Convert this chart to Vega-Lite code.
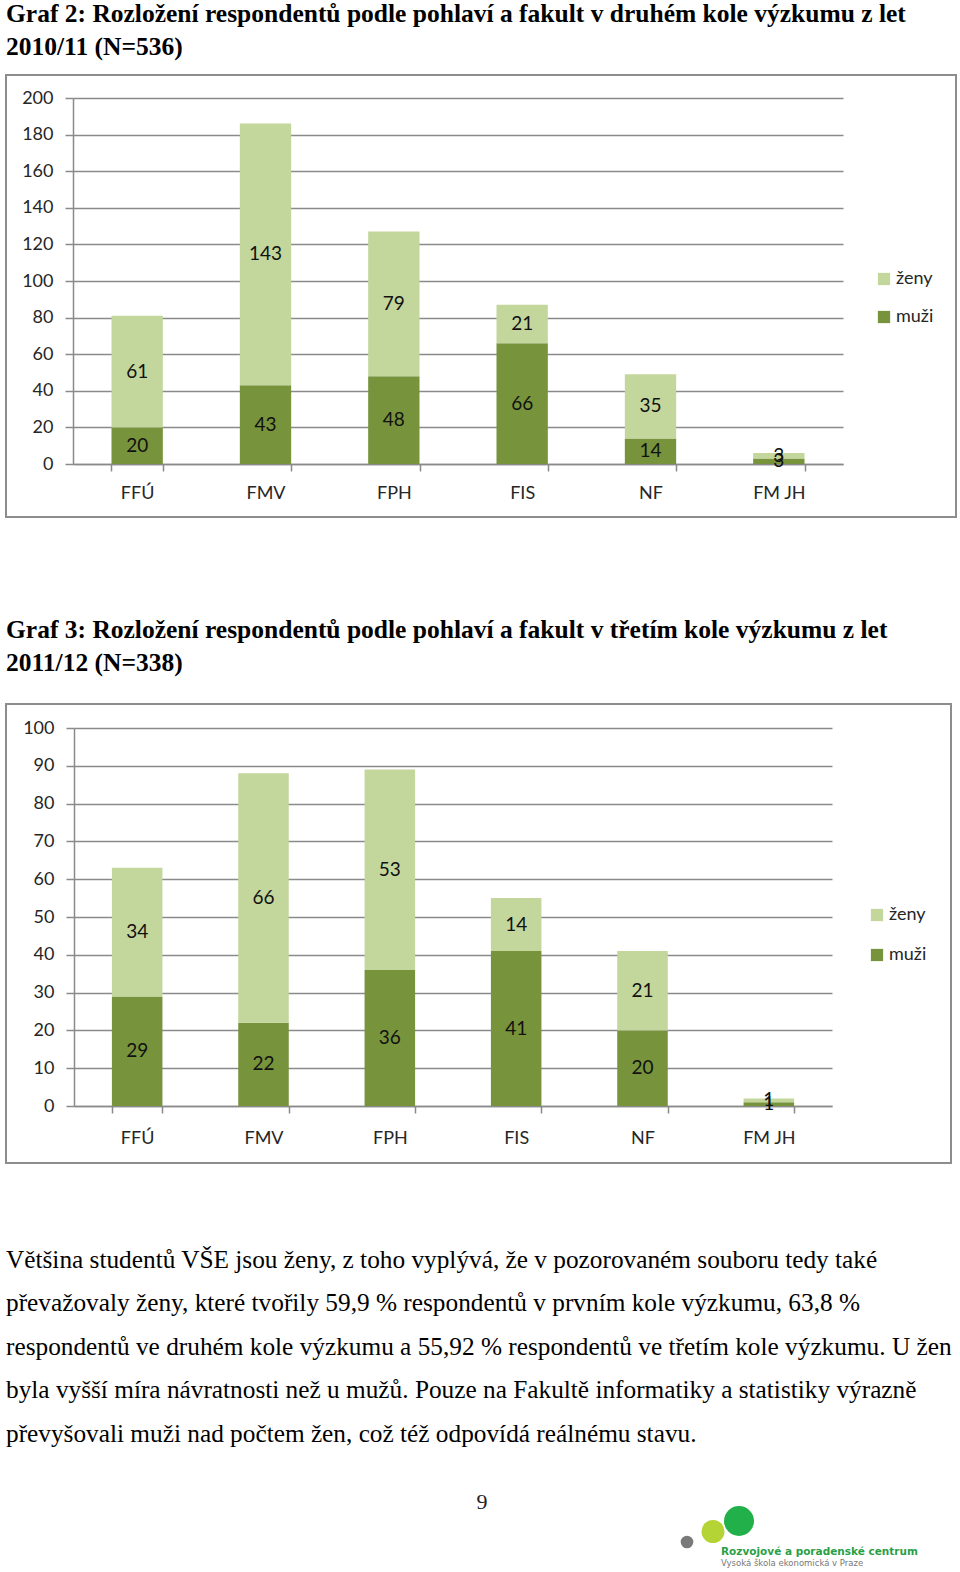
{
  "$schema": "https://vega.github.io/schema/vega-lite/v6.json",
  "padding": {"left": 5, "top": 0, "right": 0, "bottom": 0},
  "background": "white",
  "datasets": {
    "kolo2": [
      {"fakulta": "FFÚ", "pohlavi": "muži", "pocet": 20},
      {"fakulta": "FFÚ", "pohlavi": "ženy", "pocet": 61},
      {"fakulta": "FMV", "pohlavi": "muži", "pocet": 43},
      {"fakulta": "FMV", "pohlavi": "ženy", "pocet": 143},
      {"fakulta": "FPH", "pohlavi": "muži", "pocet": 48},
      {"fakulta": "FPH", "pohlavi": "ženy", "pocet": 79},
      {"fakulta": "FIS", "pohlavi": "muži", "pocet": 66},
      {"fakulta": "FIS", "pohlavi": "ženy", "pocet": 21},
      {"fakulta": "NF", "pohlavi": "muži", "pocet": 14},
      {"fakulta": "NF", "pohlavi": "ženy", "pocet": 35},
      {"fakulta": "FM JH", "pohlavi": "muži", "pocet": 3},
      {"fakulta": "FM JH", "pohlavi": "ženy", "pocet": 3}
    ],
    "kolo3": [
      {"fakulta": "FFÚ", "pohlavi": "muži", "pocet": 29},
      {"fakulta": "FFÚ", "pohlavi": "ženy", "pocet": 34},
      {"fakulta": "FMV", "pohlavi": "muži", "pocet": 22},
      {"fakulta": "FMV", "pohlavi": "ženy", "pocet": 66},
      {"fakulta": "FPH", "pohlavi": "muži", "pocet": 36},
      {"fakulta": "FPH", "pohlavi": "ženy", "pocet": 53},
      {"fakulta": "FIS", "pohlavi": "muži", "pocet": 41},
      {"fakulta": "FIS", "pohlavi": "ženy", "pocet": 14},
      {"fakulta": "NF", "pohlavi": "muži", "pocet": 20},
      {"fakulta": "NF", "pohlavi": "ženy", "pocet": 21},
      {"fakulta": "FM JH", "pohlavi": "muži", "pocet": 1},
      {"fakulta": "FM JH", "pohlavi": "ženy", "pocet": 1}
    ],
    "logo": [
      {"kruh": "šedý"},
      {"kruh": "žlutozelený"},
      {"kruh": "zelený"}
    ],
    "strana": [{"cislo": "9"}]
  },
  "config": {
    "axis": {
      "labelFont": "Lato",
      "labelFontSize": 18,
      "labelColor": "#262626",
      "domainColor": "#8a8a8a",
      "domainWidth": 1.5,
      "tickColor": "#8a8a8a",
      "tickWidth": 1.5,
      "gridColor": "#8a8a8a",
      "gridWidth": 1.3,
      "title": null
    },
    "legend": {
      "labelFont": "Lato",
      "labelFontSize": 18,
      "labelColor": "#262626",
      "symbolType": "square",
      "symbolSize": 150,
      "symbolStrokeWidth": 0,
      "padding": 0,
      "labelOffset": 3
    },
    "title": {"font": "Liberation Serif", "color": "black", "anchor": "start", "frame": "group"}
  },
  "resolve": {
    "scale": {"color": "independent", "size": "independent", "x": "independent", "y": "independent"},
    "legend": {"color": "independent"}
  },
  "vconcat": [
    {
      "spacing": 98,
      "resolve": {
        "scale": {"color": "independent", "x": "independent", "y": "independent"},
        "legend": {"color": "independent"}
      },
      "vconcat": [
        {
          "width": 950,
          "height": 442,
          "view": {"stroke": "#8d8d8d", "strokeWidth": 2},
          "title": {
            "text": ["Graf 2: Rozložení respondentů podle pohlaví a fakult v druhém kole výzkumu z let", "2010/11 (N=536)"],
            "fontSize": 25.5,
            "fontWeight": "bold",
            "lineHeight": 33,
            "offset": 15
          },
          "data": {"name": "kolo2"},
          "encoding": {
            "x": {
              "field": "fakulta", "type": "nominal", "sort": null,
              "scale": {"range": [67, 837], "paddingInner": 0.6, "paddingOuter": 0.3},
              "axis": {"orient": "bottom", "offset": -53, "tickBand": "extent", "tickSize": 7, "labelPadding": 13, "labelAngle": 0, "grid": false}
            }
          },
          "layer": [
            {
              "mark": {"type": "bar"},
              "encoding": {
                "y": {
                  "field": "pocet", "type": "quantitative", "stack": "zero",
                  "scale": {"domain": [0, 200], "range": [389, 23], "nice": false},
                  "axis": {"offset": -67, "values": [0, 20, 40, 60, 80, 100, 120, 140, 160, 180, 200], "tickSize": 8, "labelPadding": 12, "grid": true}
                },
                "order": {"field": "pohlavi", "sort": "ascending"},
                "color": {
                  "field": "pohlavi", "type": "nominal",
                  "scale": {"domain": ["ženy", "muži"], "range": ["#C3D69B", "#77933C"]},
                  "legend": {"orient": "none", "legendX": 869, "legendY": 195, "title": null, "rowPadding": 20}
                }
              }
            },
            {
              "transform": [
                {"stack": "pocet", "groupby": ["fakulta"], "sort": [{"field": "pohlavi", "order": "ascending"}], "as": ["s0", "s1"]},
                {"fold": ["s0", "s1"], "as": ["kraj", "hodnota"]},
                {"aggregate": [{"op": "mean", "field": "hodnota", "as": "stred"}], "groupby": ["fakulta", "pohlavi", "pocet"]}
              ],
              "mark": {"type": "text", "font": "Lato", "fontSize": 19, "baseline": "middle", "color": "#111111"},
              "encoding": {
                "y": {"field": "stred", "type": "quantitative"},
                "text": {"field": "pocet"}
              }
            }
          ]
        },
        {
          "width": 945,
          "height": 459,
          "view": {"stroke": "#8d8d8d", "strokeWidth": 2},
          "title": {
            "text": ["Graf 3: Rozložení respondentů podle pohlaví a fakult v třetím kole výzkumu z let", "2011/12 (N=338)"],
            "fontSize": 25.5,
            "fontWeight": "bold",
            "lineHeight": 33,
            "offset": 28
          },
          "data": {"name": "kolo3"},
          "encoding": {
            "x": {
              "field": "fakulta", "type": "nominal", "sort": null,
              "scale": {"range": [68, 826], "paddingInner": 0.6, "paddingOuter": 0.3},
              "axis": {"orient": "bottom", "offset": -57, "tickBand": "extent", "tickSize": 7, "labelPadding": 16, "labelAngle": 0, "grid": false}
            }
          },
          "layer": [
            {
              "mark": {"type": "bar"},
              "encoding": {
                "y": {
                  "field": "pocet", "type": "quantitative", "stack": "zero",
                  "scale": {"domain": [0, 100], "range": [402, 24], "nice": false},
                  "axis": {"offset": -68, "values": [0, 10, 20, 30, 40, 50, 60, 70, 80, 90, 100], "tickSize": 8, "labelPadding": 12, "grid": true}
                },
                "order": {"field": "pohlavi", "sort": "ascending"},
                "color": {
                  "field": "pohlavi", "type": "nominal",
                  "scale": {"domain": ["ženy", "muži"], "range": ["#C3D69B", "#77933C"]},
                  "legend": {"orient": "none", "legendX": 862, "legendY": 202, "title": null, "rowPadding": 22}
                }
              }
            },
            {
              "transform": [
                {"stack": "pocet", "groupby": ["fakulta"], "sort": [{"field": "pohlavi", "order": "ascending"}], "as": ["s0", "s1"]},
                {"fold": ["s0", "s1"], "as": ["kraj", "hodnota"]},
                {"aggregate": [{"op": "mean", "field": "hodnota", "as": "stred"}], "groupby": ["fakulta", "pohlavi", "pocet"]}
              ],
              "mark": {"type": "text", "font": "Lato", "fontSize": 19, "baseline": "middle", "color": "#111111"},
              "encoding": {
                "y": {"field": "stred", "type": "quantitative"},
                "text": {"field": "pocet"}
              }
            }
          ]
        }
      ]
    },
    {
      "width": 952,
      "height": 118,
      "view": {"stroke": null},
      "title": {
        "text": [
          "Většina studentů VŠE jsou ženy, z toho vyplývá, že v pozorovaném souboru tedy také",
          "převažovaly ženy, které tvořily 59,9 % respondentů v prvním kole výzkumu, 63,8 %",
          "respondentů ve druhém kole výzkumu a 55,92 % respondentů ve třetím kole výzkumu. U žen",
          "byla vyšší míra návratnosti než u mužů. Pouze na Fakultě informatiky a statistiky výrazně",
          "převyšovali muži nad počtem žen, což též odpovídá reálnému stavu."
        ],
        "fontSize": 25.3,
        "fontWeight": "normal",
        "lineHeight": 43.5,
        "offset": 10
      },
      "layer": [
        {
          "data": {"name": "strana"},
          "mark": {"type": "text", "font": "Liberation Serif", "fontSize": 22, "color": "#222222", "baseline": "middle", "dy": -14},
          "encoding": {"text": {"field": "cislo"}}
        },
        {
          "data": {"name": "logo"},
          "mark": {"type": "circle", "opacity": 1},
          "encoding": {
            "x": {"field": "kruh", "type": "nominal", "sort": null, "scale": {"type": "point", "domain": ["šedý", "žlutozelený", "zelený"], "range": [681, 733], "padding": 0}, "axis": null},
            "y": {"field": "kruh", "type": "nominal", "sort": null, "scale": {"type": "point", "domain": ["šedý", "žlutozelený", "zelený"], "range": [85, 64], "padding": 0}, "axis": null},
            "size": {"field": "kruh", "type": "ordinal", "sort": null, "scale": {"domain": ["šedý", "žlutozelený", "zelený"], "range": [160, 900]}, "legend": null},
            "color": {"field": "kruh", "type": "nominal", "scale": {"domain": ["šedý", "žlutozelený", "zelený"], "range": ["#7a7a7a", "#b4d334", "#22b04a"]}, "legend": null}
          }
        },
        {
          "data": {"name": "strana"},
          "mark": {"type": "text", "font": "DejaVu Sans", "fontSize": 10.5, "fontWeight": "bold", "color": "#2aa046", "align": "left", "baseline": "middle", "dx": 8, "dy": 10},
          "encoding": {
            "x": {"datum": "žlutozelený", "type": "nominal"},
            "y": {"datum": "šedý", "type": "nominal"},
            "text": {"value": "Rozvojové a poradenské centrum"}
          }
        },
        {
          "data": {"name": "strana"},
          "mark": {"type": "text", "font": "DejaVu Sans", "fontSize": 8.5, "color": "#777777", "align": "left", "baseline": "middle", "dx": 8, "dy": 21},
          "encoding": {
            "x": {"datum": "žlutozelený", "type": "nominal"},
            "y": {"datum": "šedý", "type": "nominal"},
            "text": {"value": "Vysoká škola ekonomická v Praze"}
          }
        }
      ]
    }
  ],
  "spacing": 83
}
